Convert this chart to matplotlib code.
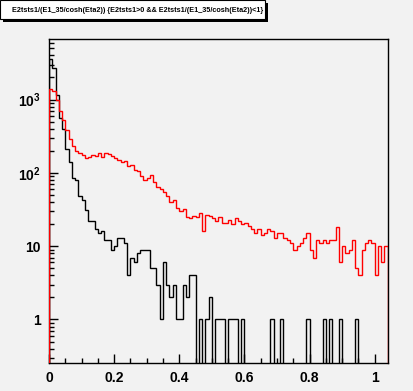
import numpy as np
import matplotlib
matplotlib.use("Agg")
import matplotlib.pyplot as plt
from matplotlib.patches import Rectangle
from matplotlib.ticker import FixedLocator, LogLocator, NullFormatter

plt.rcParams['font.family'] = ['Liberation Sans', 'DejaVu Sans']
plt.rcParams['mathtext.fontset'] = 'custom'
plt.rcParams['mathtext.rm'] = 'Liberation Sans:bold'
plt.rcParams['mathtext.bf'] = 'Liberation Sans:bold'

# histogram range / binning
x_lo, x_hi, n_bins = 0.0, 1.04, 104

# all entries (black)
black_counts = [3600, 2700, 1150, 560, 400, 210, 140, 85, 80, 48,
                42, 31, 22, 22, 17, 15, 16, 12, 12, 9,
                10, 13, 13, 11, 4, 7, 6, 8, 9, 9,
                9, 5, 5, 3, 1, 6, 3, 2, 3, 1,
                1, 3, 2, 4, 4, 0, 1, 0, 1, 2,
                0, 1, 1, 1, 0, 1, 1, 1, 0, 1,
                0, 0, 0, 0, 0, 0, 0, 0, 1, 0,
                0, 1, 0, 0, 0, 0, 0, 0, 0, 1,
                0, 0, 0, 0, 1, 0, 1, 0, 0, 1,
                0, 0, 0, 0, 1, 0, 0, 0, 0, 0,
                0, 0, 0, 0]

# selected entries (red)
red_counts = [1400, 1300, 1000, 700, 520, 380, 290, 230, 200, 185,
              175, 160, 165, 175, 170, 185, 165, 185, 180, 170,
              160, 150, 140, 145, 125, 130, 110, 105, 90, 80,
              85, 95, 75, 65, 60, 55, 48, 40, 42, 33,
              30, 32, 25, 24, 26, 25, 28, 16, 27, 26,
              24, 22, 25, 21, 21, 23, 20, 24, 22, 20,
              21, 19, 17, 15, 17, 14, 15, 17, 16, 13,
              15, 15, 13, 12, 11, 9, 10, 11, 13, 15,
              9, 7, 12, 11, 12, 11, 12, 12, 18, 6,
              10, 8, 9, 12, 5, 4, 9, 11, 12, 11,
              4, 10, 6, 10]

x_major = [0, 0.2, 0.4, 0.6, 0.8, 1.0]
x_labels = ['0', '0.2', '0.4', '0.6', '0.8', '1']
y_major = [1, 10, 100, 1000]
y_labels = ['1', '10', r'$10^{2}$', r'$10^{3}$']

title = "E2tsts1/(E1_35/cosh(Eta2)) {E2tsts1>0 && E2tsts1/(E1_35/cosh(Eta2))<1}"

bg = '#f2f2f2'
W, H = 413, 391
fig = plt.figure(figsize=(W / 100, H / 100), dpi=100, facecolor=bg)

def fx(px):
    return px / W

def fy(py):
    return 1 - py / H

ax = fig.add_axes([fx(49), fy(363), fx(387.7) - fx(49), fy(39) - fy(363)])
ax.set_facecolor(bg)

edges = np.linspace(x_lo, x_hi, n_bins + 1)
floor = 1e-3
blk = np.where(np.array(black_counts) > 0, black_counts, floor)
red = np.where(np.array(red_counts) > 0, red_counts, floor)

ax.stairs(blk, edges, baseline=floor, color='black', lw=1.0, zorder=2)
ax.stairs(red, edges, baseline=floor, color='red', lw=1.0, zorder=3)

ax.set_yscale('log')
ax.set_xlim(x_lo, x_hi)
ax.set_ylim(0.255, 6700)

for s in ax.spines.values():
    s.set_linewidth(1.0)
    s.set_color('black')

ax.xaxis.set_major_locator(FixedLocator(x_major))
ax.set_xticklabels(x_labels)
ax.xaxis.set_minor_locator(FixedLocator(np.arange(0, 1.04, 0.05)))
ax.yaxis.set_major_locator(FixedLocator(y_major))
ax.set_yticklabels(y_labels)
ax.yaxis.set_minor_locator(LogLocator(base=10, subs=np.arange(2, 10)))
ax.yaxis.set_minor_formatter(NullFormatter())

ax.tick_params(which='both', direction='in', top=False, right=False, width=1.0)
ax.tick_params(which='major', length=6.5)
ax.tick_params(which='minor', length=3.5)
ax.tick_params(axis='x', which='major', labelsize=10, pad=6)
ax.tick_params(axis='y', which='major', labelsize=10, pad=6)
for lab in ax.get_xticklabels() + ax.get_yticklabels():
    lab.set_fontweight('bold')

# title box with shadow
shadow = Rectangle((fx(3), fy(22)), fx(268) - fx(3), fy(3) - fy(22),
                   transform=fig.transFigure, facecolor='black', edgecolor='none')
box = Rectangle((fx(0), fy(19)), fx(265), fy(0) - fy(19),
                transform=fig.transFigure, facecolor='white', edgecolor='black', lw=0.8)
fig.patches.extend([shadow, box])
t = fig.text(fx(12.5), fy(10), title, fontsize=5.25, fontweight='bold',
             ha='left', va='center')
t.set_clip_path(box)

fig.savefig('out.png', dpi=100, facecolor=bg)
